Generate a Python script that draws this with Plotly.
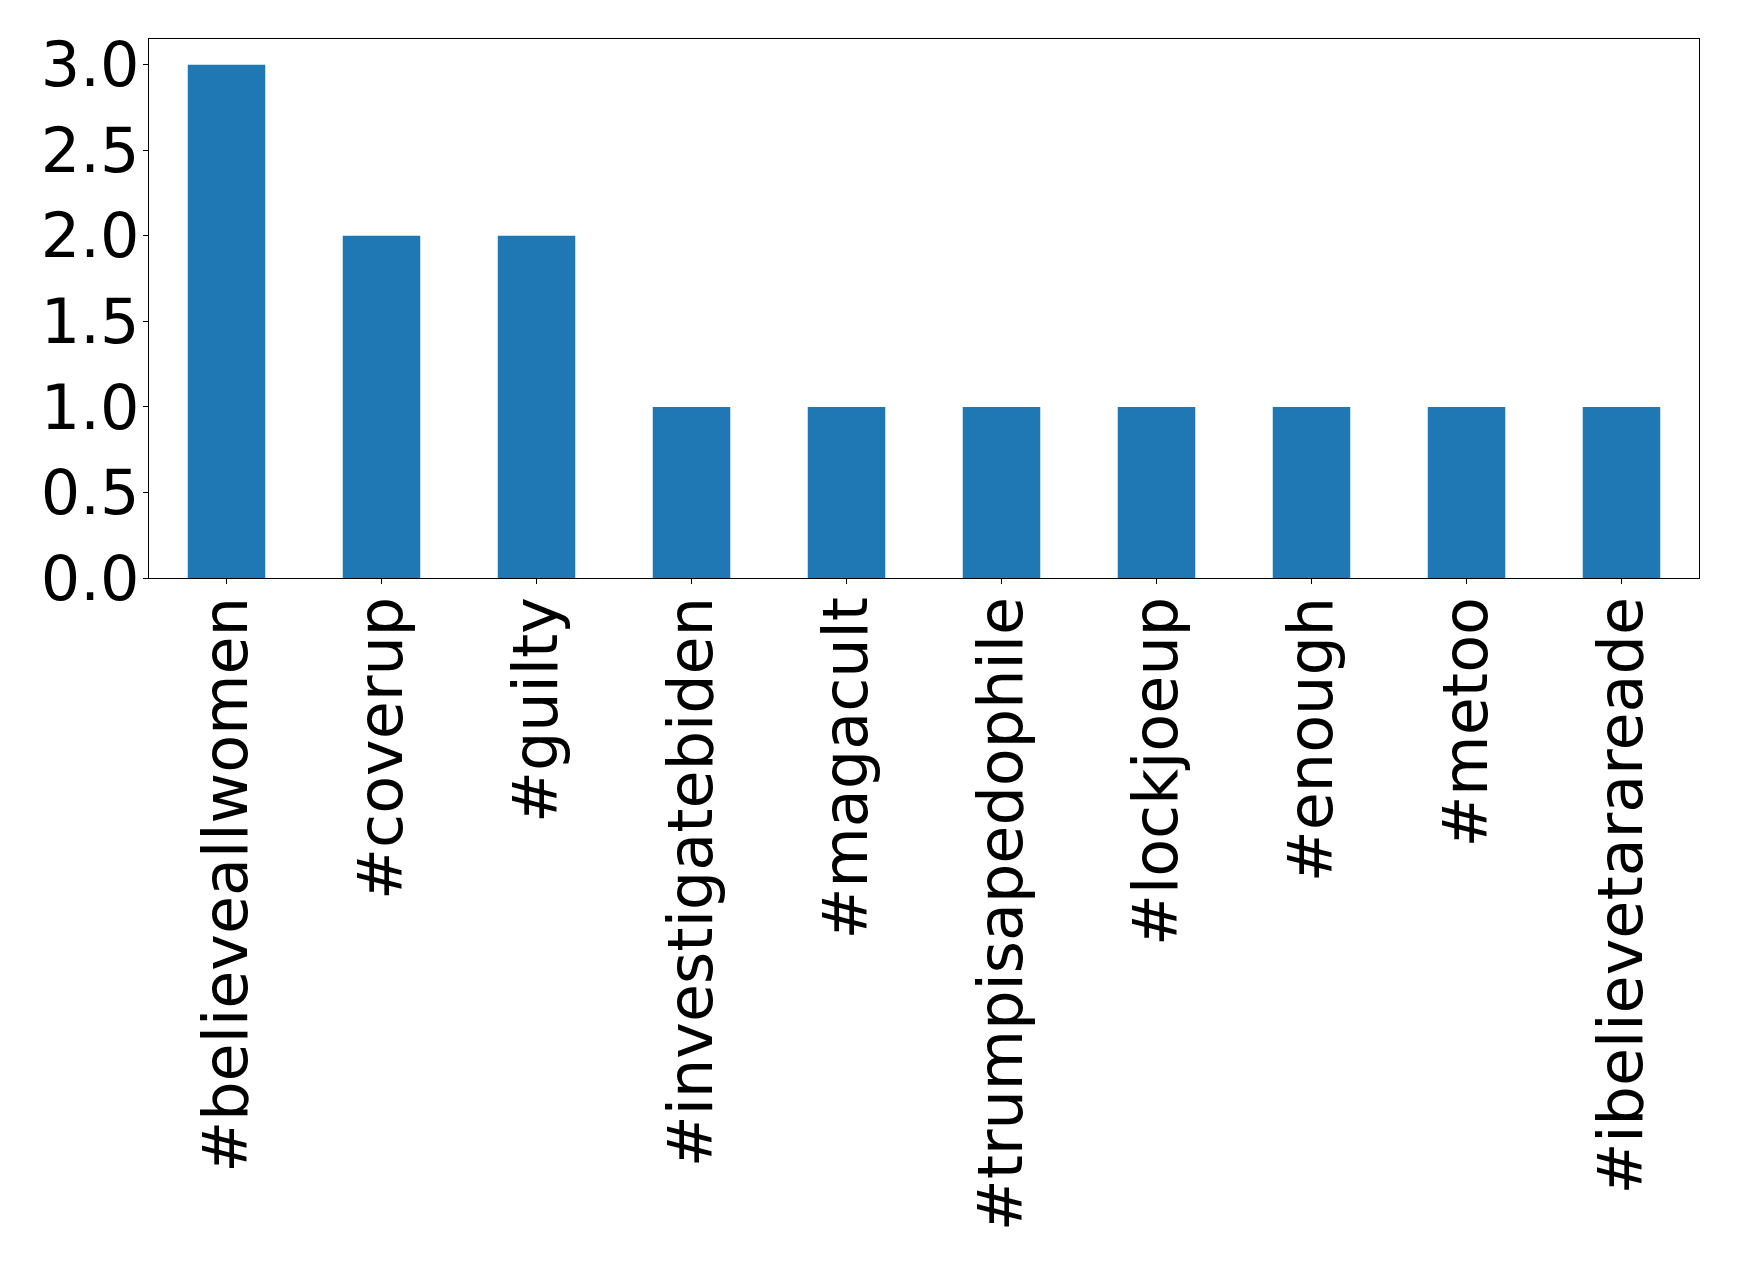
import plotly.graph_objects as go

categories = ["#believeallwomen", "#coverup", "#guilty", "#investigatebiden", "#magacult",
              "#trumpisapedophile", "#lockjoeup", "#enough", "#metoo", "#ibelievetarareade"]
counts = [3, 2, 2, 1, 1, 1, 1, 1, 1, 1]
y_ticks = [0.0, 0.5, 1.0, 1.5, 2.0, 2.5, 3.0]
y_tick_labels = ["0.0", "0.5", "1.0", "1.5", "2.0", "2.5", "3.0"]

fig = go.Figure(go.Bar(x=list(range(len(categories))), y=counts, width=0.5,
                       marker=dict(color="#1f77b4", line=dict(width=0))))

font = dict(family="DejaVu Sans", size=62, color="black")
fig.update_layout(
    width=1739, height=1267,
    margin=dict(l=149, r=40, t=39, b=689),
    paper_bgcolor="white", plot_bgcolor="white",
    showlegend=False,
    font=font,
    xaxis=dict(range=[-0.5, 9.5], tickmode="array", tickvals=list(range(len(categories))),
               ticktext=categories, tickangle=-90, ticks="outside", ticklen=5, tickwidth=1.3,
               tickcolor="black", showline=True, linecolor="black", linewidth=1.3, mirror=True,
               showgrid=False, zeroline=False, tickfont=font, ticklabelstandoff=-12),
    yaxis=dict(range=[0, 3.15], tickmode="array", tickvals=y_ticks, ticktext=y_tick_labels,
               ticks="outside", ticklen=5, tickwidth=1.3, tickcolor="black",
               showline=True, linecolor="black", linewidth=1.3, mirror=True,
               showgrid=False, zeroline=False, tickfont=font, ticklabelstandoff=-9),
)

fig.write_html("out.html")
